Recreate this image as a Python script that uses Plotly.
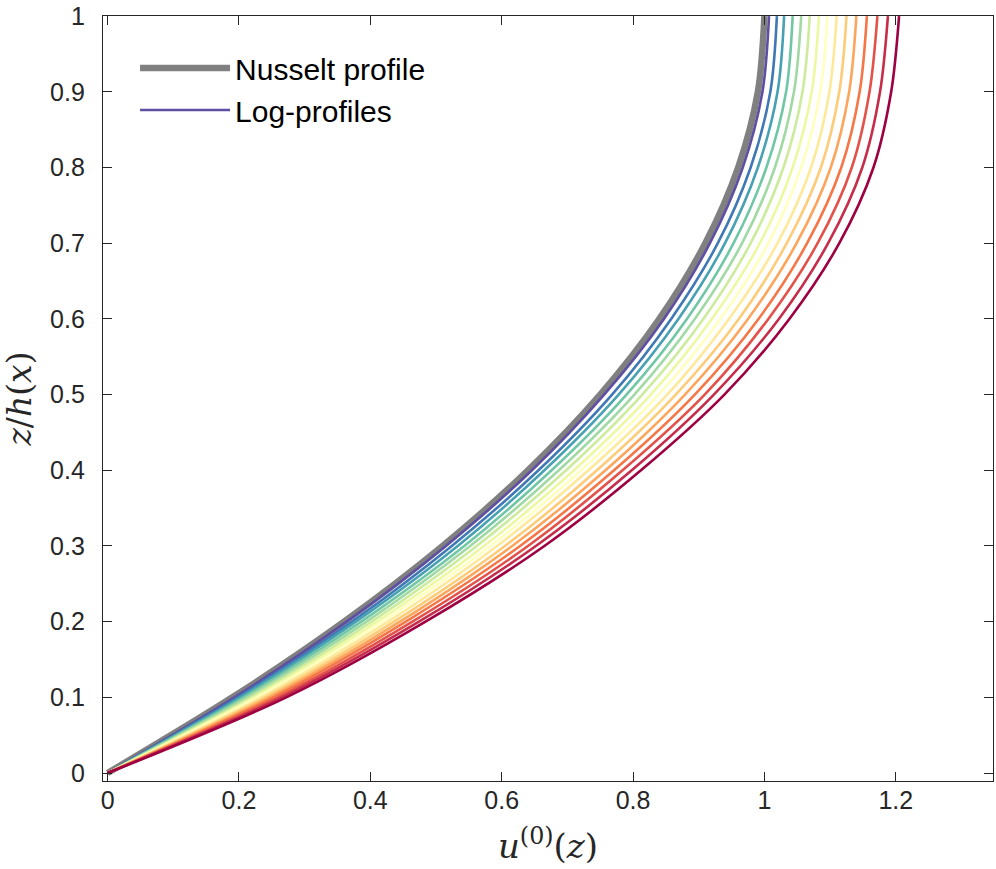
import plotly.graph_objects as go
from plotly.colors import sample_colorscale

# ---- data ----
z_levels = [0.0, 0.1, 0.2, 0.3, 0.4, 0.5, 0.6, 0.7, 0.8, 0.9, 1.0]

nusselt_u = [0.0, 0.19, 0.36, 0.51, 0.64, 0.75, 0.84, 0.91, 0.96, 0.99, 1.0]

log_u_01 = [0.0, 0.193, 0.364, 0.515, 0.646, 0.756, 0.847, 0.917, 0.967, 0.997, 1.007]
log_u_02 = [0.0, 0.198, 0.372, 0.524, 0.656, 0.768, 0.858, 0.929, 0.979, 1.009, 1.019]
log_u_03 = [0.0, 0.202, 0.378, 0.533, 0.665, 0.778, 0.869, 0.940, 0.990, 1.020, 1.030]
log_u_04 = [0.0, 0.207, 0.386, 0.543, 0.676, 0.790, 0.882, 0.953, 1.003, 1.033, 1.043]
log_u_05 = [0.0, 0.212, 0.394, 0.552, 0.687, 0.802, 0.894, 0.966, 1.016, 1.045, 1.056]
log_u_06 = [0.0, 0.218, 0.402, 0.562, 0.698, 0.814, 0.907, 0.979, 1.029, 1.058, 1.069]
log_u_07 = [0.0, 0.223, 0.410, 0.573, 0.710, 0.827, 0.920, 0.993, 1.043, 1.072, 1.083]
log_u_08 = [0.0, 0.228, 0.418, 0.583, 0.721, 0.839, 0.933, 1.006, 1.056, 1.085, 1.096]
log_u_09 = [0.0, 0.234, 0.427, 0.593, 0.732, 0.852, 0.946, 1.020, 1.071, 1.099, 1.110]
log_u_10 = [0.0, 0.240, 0.436, 0.605, 0.745, 0.865, 0.961, 1.034, 1.086, 1.114, 1.125]
log_u_11 = [0.0, 0.246, 0.445, 0.616, 0.758, 0.879, 0.975, 1.049, 1.101, 1.129, 1.140]
log_u_12 = [0.0, 0.252, 0.454, 0.628, 0.771, 0.894, 0.991, 1.065, 1.117, 1.145, 1.156]
log_u_13 = [0.0, 0.259, 0.464, 0.640, 0.784, 0.909, 1.006, 1.081, 1.133, 1.160, 1.172]
log_u_14 = [0.0, 0.265, 0.474, 0.652, 0.798, 0.923, 1.022, 1.097, 1.149, 1.176, 1.188]
log_u_15 = [0.0, 0.272, 0.484, 0.665, 0.812, 0.939, 1.038, 1.114, 1.166, 1.193, 1.205]

log_profiles = [log_u_01, log_u_02, log_u_03, log_u_04, log_u_05, log_u_06, log_u_07,
                log_u_08, log_u_09, log_u_10, log_u_11, log_u_12, log_u_13, log_u_14, log_u_15]

x_ticks = [0, 0.2, 0.4, 0.6, 0.8, 1.0, 1.2]
x_tick_labels = ["0", "0.2", "0.4", "0.6", "0.8", "1", "1.2"]
y_ticks = [0, 0.1, 0.2, 0.3, 0.4, 0.5, 0.6, 0.7, 0.8, 0.9, 1.0]
y_tick_labels = ["0", "0.1", "0.2", "0.3", "0.4", "0.5", "0.6", "0.7", "0.8", "0.9", "1"]

# ---- styling ----
spectral_r = [
    [0.0, "rgb(94,79,162)"], [0.1, "rgb(50,136,189)"], [0.2, "rgb(102,194,165)"],
    [0.3, "rgb(171,221,164)"], [0.4, "rgb(230,245,152)"], [0.5, "rgb(255,255,191)"],
    [0.6, "rgb(254,224,139)"], [0.7, "rgb(253,174,97)"], [0.8, "rgb(244,109,67)"],
    [0.9, "rgb(213,62,79)"], [1.0, "rgb(158,1,66)"],
]
n = len(log_profiles)
colors = sample_colorscale(spectral_r, [i / (n - 1) for i in range(n)])

fig = go.Figure()

fig.add_trace(go.Scatter(
    x=nusselt_u, y=z_levels, mode="lines", name="Nusselt profile",
    line=dict(color="rgb(128,128,128)", width=6.5, shape="spline", smoothing=0.9),
    showlegend=True,
))

for i, u in enumerate(log_profiles):
    fig.add_trace(go.Scatter(
        x=u, y=z_levels, mode="lines", name="Log-profiles",
        line=dict(color=colors[i], width=2.6, shape="spline", smoothing=0.9),
        showlegend=(i == 0),
    ))

axis_common = dict(
    showline=True, linecolor="#262626", linewidth=1.3, mirror="ticks",
    ticks="inside", ticklen=9, tickwidth=1.2, tickcolor="#262626",
    showgrid=False, zeroline=False, automargin=False,
    ticklabeloverflow="allow",
    tickfont=dict(family="Liberation Sans, Arial, sans-serif", size=25, color="#262626"),
)

fig.update_xaxes(
    range=[-0.007, 1.348], tickvals=x_ticks, ticktext=x_tick_labels,
    title=dict(text="<i>u</i><sup>(0)</sup>(<i>z</i>)",
               font=dict(family="DejaVu Serif, serif", size=34, color="#262626"),
               standoff=21),
    ticklabelstandoff=-3,
    **axis_common,
)
fig.update_yaxes(
    range=[-0.0105, 1.0002], tickvals=y_ticks, ticktext=y_tick_labels,
    title=dict(text="<i>z</i>/<i>h</i>(<i>x</i>)",
               font=dict(family="DejaVu Serif, serif", size=33, color="#262626"),
               standoff=8),
    ticklabelstandoff=12,
    **axis_common,
)

fig.update_layout(
    width=996, height=869,
    margin=dict(l=103, r=3, t=16, b=88),
    paper_bgcolor="white", plot_bgcolor="white",
    legend=dict(
        x=0.036, y=0.966, xanchor="left", yanchor="top",
        bgcolor="rgba(255,255,255,0)", borderwidth=0,
        font=dict(family="Liberation Sans, Arial, sans-serif", size=30, color="black"),
        itemwidth=90, tracegroupgap=0,
    ),
)

fig.write_html(
    "out.html",
    config={"displayModeBar": False},
    post_script="document.body.style.margin='0px';document.body.style.overflow='hidden';",
)
